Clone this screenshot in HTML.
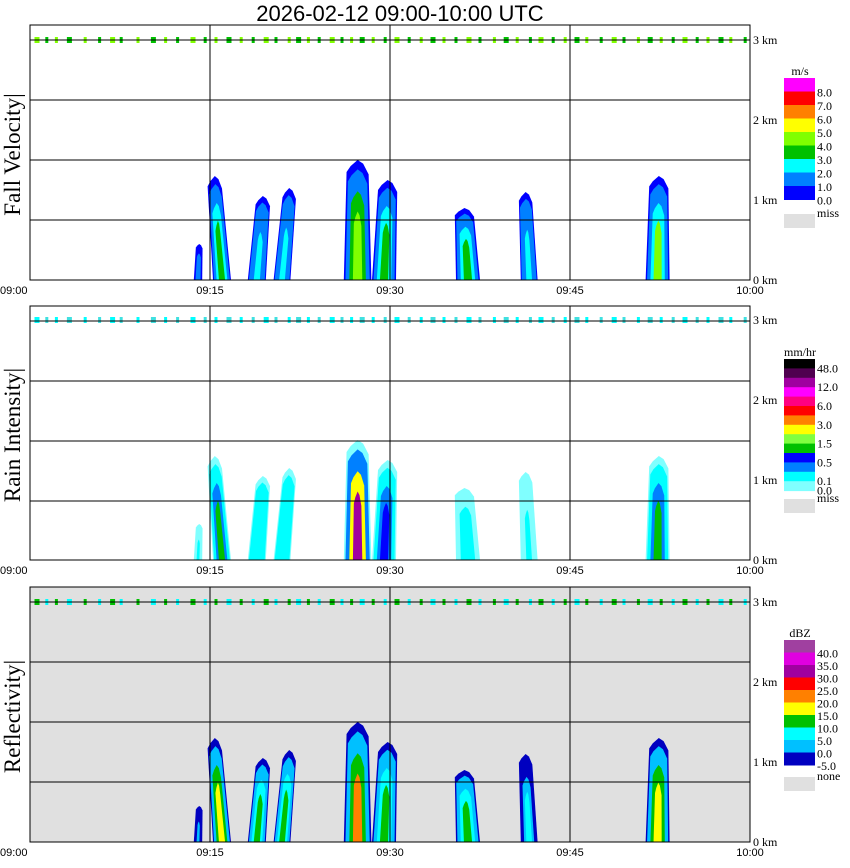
<!DOCTYPE html>
<html><head><meta charset="utf-8">
<style>
body{margin:0;background:#fff;}
svg{display:block;}
.t{font-family:"Liberation Sans",sans-serif;font-size:11px;fill:#000;}
.k{font-family:"Liberation Serif",serif;font-size:12px;fill:#000;}
.ttl{font-family:"Liberation Serif",serif;font-size:23px;fill:#000;}
</style></head>
<body>
<svg id="chart" width="850" height="868" viewBox="0 0 850 868" xmlns="http://www.w3.org/2000/svg">
<text x="400" y="21" text-anchor="middle" font-family="Liberation Sans, sans-serif" font-size="22">2026-02-12  09:00-10:00 UTC</text>
</svg>
<script>
// ---- data ----
const timeTicks = ["09:00","09:15","09:30","09:45","10:00"];
const kmTicks = [0,1,2,3];
const cellTime = [14.0, 16.0, 18.9, 21.0, 27.3, 29.5, 36.5, 41.6, 52.3];
const cellWidth = [0.7, 1.5, 1.5, 1.4, 2.3, 2.0, 2.0, 1.4, 2.0];
const cellTop = [0.45, 1.3, 1.05, 1.15, 1.5, 1.25, 0.9, 1.1, 1.3];
const cellTilt = [0.1, -0.6, 0.5, 0.6, 0.0, 0.3, -0.3, -0.3, 0.1];
const cellFall = [1.5, 3.5, 2.5, 2.5, 4.5, 3.5, 3.5, 2.5, 4.0];
const cellRain = [0.1, 0.8, 0.2, 0.2, 8.0, 0.6, 0.15, 0.1, 0.8];
const cellDbz = [2, 18, 12, 12, 23, 12, 10, 8, 18];
const speckleTimes = [0.5,1.4,2.2,3.2,4.6,5.8,6.8,7.6,9.0,10.2,11.3,12.3,13.5,14.6,15.5,16.5,17.6,18.6,19.6,20.5,21.6,22.3,23.2,24.1,25.1,26.0,26.8,27.6,28.6,29.6,30.5,31.6,32.6,33.5,34.5,35.5,36.5,37.5,38.7,39.6,40.6,41.7,42.5,43.6,44.6,45.5,46.4,47.6,48.6,49.5,50.7,51.6,52.6,53.6,54.5,55.6,56.5,57.5,58.4,59.6];
const fallBounds = [0,1,2,3,4,5,6,7,8];
const fallColors = ["#0000ff","#0080ff","#00ffff","#00c000","#80ff00","#ffff00","#ff8000","#ff0000","#ff00ff"];
const fallLabels = ["8.0","7.0","6.0","5.0","4.0","3.0","2.0","1.0","0.0"];
const rainBounds = [0,0.1,0.25,0.5,0.75,1.0,1.5,2,3,4,6,8,12,24];
const rainColors = ["#80ffff","#00ffff","#0080ff","#0000ff","#00c000","#80ff40","#ffff00","#ff8000","#ff0000","#ff0080","#ff00ff","#a000a0","#500050","#000000"];
const rainLabels = [["48.0",0],["12.0",2],["6.0",4],["3.0",6],["1.5",8],["0.5",10],["0.1",12],["0.0",13]];
const dbzBounds = [-5,0,5,10,15,20,25,30,35,40];
const dbzColors = ["#0000c0","#00c0ff","#00ffff","#00c000","#ffff00","#ff8000","#ff0000","#a000a0","#e000e0","#a040a0"];
const dbzLabels = ["40.0","35.0","30.0","25.0","20.0","15.0","10.0","5.0","0.0","-5.0"];

const NS="http://www.w3.org/2000/svg";
const svg=document.getElementById('chart');
const X0=30, X1=750;
const xScale = t => X0 + t*(X1-X0)/60;
const yScale = (h,bottom) => bottom - h*80;
function mk(tag,attrs,parent){const e=document.createElementNS(NS,tag);for(const k in attrs)e.setAttribute(k,attrs[k]);(parent||svg).appendChild(e);return e;}
function colorFor(v,bounds,colors){let i=0;for(let j=0;j<bounds.length;j++){if(v>=bounds[j])i=j;}return colors[Math.min(i,colors.length-1)];}

const panels=[
 {top:25,bottom:280,name:"fall-velocity",title:"Fall Velocity",bg:"#ffffff",vals:cellFall,bounds:fallBounds,colors:fallColors,spk:["#80ff00","#00c000"],start:0.3},
 {top:306,bottom:560,name:"rain-intensity",title:"Rain Intensity",bg:"#ffffff",vals:cellRain,bounds:rainBounds,colors:rainColors,spk:["#00ffff","#40e0e0"],start:0.08},
 {top:587,bottom:842,name:"reflectivity",title:"Reflectivity",bg:"#e0e0e0",vals:cellDbz,bounds:dbzBounds,colors:dbzColors,spk:["#00c000","#00ffff"],start:-5}
];

panels.forEach((p,pi)=>{
  const g=mk('g',{});
  
  
  mk('rect',{x:X0,y:p.top,width:X1-X0,height:p.bottom-p.top,fill:p.bg},g);
  cellTime.forEach((t,i)=>{
    const c=xScale(t), w=cellWidth[i]*12, H=cellTop[i]*80, d=cellTilt[i]*12, peak=p.vals[i];
    const cg=mk('g',{},g);
    
    
    const layers=[1,0.88,0.6,0.34];
    layers.forEach((s,li)=>{
      const frac=li/(layers.length-1);
      let v = pi===1 ? p.start*Math.pow(peak/p.start,frac) : p.start+(peak-p.start)*frac;
      if(pi===1 && peak<=p.start) v=p.start;
      const col=colorFor(v,p.bounds,p.colors);
      const hw=w/2*s, hs=0.35+0.65*s, yb=p.bottom, yt=p.bottom-H*hs;
      const tc=c+d*hs;
      const pts=[[c-hw,yb],[c+hw,yb],[tc+hw*0.8,yt+H*0.12],[tc+hw*0.4,yt+H*0.03],[tc,yt],[tc-hw*0.5,yt+H*0.05],[tc-hw*0.8,yt+H*0.1]];
      const poly=mk('polygon',{points:pts.map(q=>q.join(',')).join(' '),fill:col},cg);
      
      
    });
  });
  speckleTimes.forEach((t,i)=>{
    const r=mk('rect',{x:xScale(t)-1.5,y:yScale(3,p.bottom)-3,width:(i%3===0?5:3),height:6,fill:p.spk[i%2]},g);
    
    
  });
  [1,2,3].forEach(k=>{const x=xScale(k*15);mk('line',{x1:x,x2:x,y1:p.top,y2:p.bottom,stroke:'#000','stroke-width':1},g);});
  [15,75,135,195].forEach(o=>{const y=p.top+o;mk('line',{x1:X0,x2:X1,y1:y,y2:y,stroke:'#000','stroke-width':1},g);});
  mk('rect',{x:X0,y:p.top,width:X1-X0,height:p.bottom-p.top,fill:'none',stroke:'#000','stroke-width':1},g);
  kmTicks.forEach(k=>{
    const tx=mk('text',{x:753,y:yScale(k,p.bottom)+4,class:'k'},g);
    tx.textContent=k+' km';
    
    
  });
  timeTicks.forEach((s,i)=>{
    const tx=mk('text',{x:i===0?0:xScale(i*15),y:p.bottom+14,class:'t','text-anchor':i===0?'start':'middle'},g);
    tx.textContent=s;
    
    
  });
  const cy=(p.top+p.bottom)/2+2;
  const yt=mk('text',{x:20,y:cy,class:'ttl','text-anchor':'middle',transform:`rotate(-90 20 ${cy})`},g);
  yt.textContent=p.title+'|';
  
  
});

function legend(top,unit,colors,labels,segH,missY,missText,name,labelMode){
  const g=mk('g',{});
  
  
  const ut=mk('text',{x:800,y:top-3,class:'k','text-anchor':'middle','font-size':'11'},g);
  ut.textContent=unit;
  const n=colors.length;
  for(let i=0;i<n;i++){
    const r=mk('rect',{x:784,y:top+i*segH,width:31,height:segH+0.5,fill:colors[n-1-i]},g);
    
    
  }
  labels.forEach((l,i)=>{
    let yy, s=l;
    if(labelMode==='rain'){s=l[0]; yy=top+(l[1]+1)*segH+4;} else {yy=top+(i+1)*segH+5;}
    const tx=mk('text',{x:817,y:yy,class:'k'},g);
    tx.textContent=s;
    
    
  });
  mk('rect',{x:784,y:missY,width:31,height:14,fill:'#e0e0e0'},g);
  const mt=mk('text',{x:817,y:missY+3,class:'k'},g);
  mt.textContent=missText;
}
legend(78,"m/s",fallColors,fallLabels,13.5,214,"miss","fall-velocity","fall");
legend(359,"mm/hr",rainColors,rainLabels,9.4,499,"miss","rain-intensity","rain");
legend(640,"dBZ",dbzColors,dbzLabels,12.5,777,"none","reflectivity","dbz");
</script>
</body></html>
